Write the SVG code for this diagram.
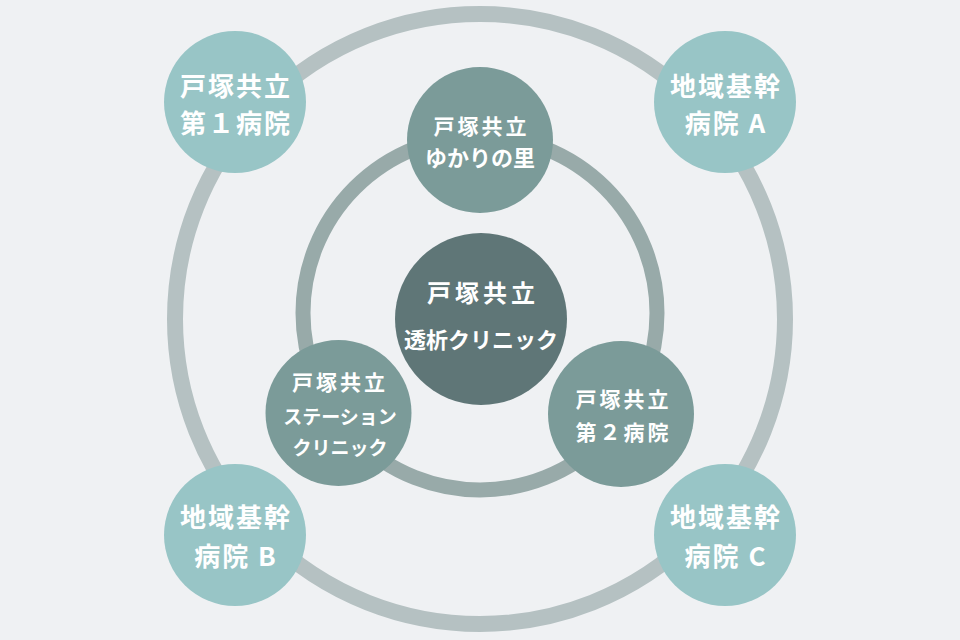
<svg xmlns="http://www.w3.org/2000/svg" width="960" height="640" viewBox="0 0 960 640">
<style>
.t{fill:#ffffff;font-family:"Noto Sans CJK JP","Noto Sans",sans-serif;font-weight:700;text-anchor:middle}
.o{font-size:26px;letter-spacing:2px}
.s1{font-size:21px;letter-spacing:3px}
.s2{font-size:19px}
.c1{font-size:24px;letter-spacing:4px}
.c2{font-size:22px}
.outer{fill:#98c5c6}
.inner{fill:#7b9b99}
.center{fill:#5f7677}
</style>
<rect width="960" height="640" fill="#eff1f3"/>
<g id="connectors" fill="none">
<circle cx="480" cy="319" r="305" stroke="#b5c1c2" stroke-width="16"/>
<circle cx="480" cy="313" r="177" stroke="#98aaa9" stroke-width="15"/>
</g>
<g id="n-daiichi">
<circle class="outer" cx="235" cy="102" r="71"/>
<text class="t o" x="236" y="96">戸塚共立</text>
<text class="t o" x="236" y="133">第１病院</text>
</g>
<g id="n-kikanA">
<circle class="outer" cx="725" cy="102" r="71"/>
<text class="t o" x="726" y="96">地域基幹</text>
<text class="t o" x="726" y="133">病院 A</text>
</g>
<g id="n-kikanB">
<circle class="outer" cx="235" cy="535" r="71"/>
<text class="t o" x="236" y="527">地域基幹</text>
<text class="t o" x="236" y="566">病院 B</text>
</g>
<g id="n-kikanC">
<circle class="outer" cx="725" cy="535" r="71"/>
<text class="t o" x="726" y="527">地域基幹</text>
<text class="t o" x="726" y="566">病院 C</text>
</g>
<g id="n-yukari">
<circle class="inner" cx="480" cy="140" r="73"/>
<text class="t s1" x="481.5" y="134">戸塚共立</text>
<text class="t c2" x="480" y="166">ゆかりの里</text>
</g>
<g id="n-station">
<circle class="inner" cx="338.5" cy="413" r="73"/>
<text class="t s1" x="340" y="390">戸塚共立</text>
<text class="t s2" x="340" y="424">ステーション</text>
<text class="t s2" x="340" y="455">クリニック</text>
</g>
<g id="n-daini">
<circle class="inner" cx="621" cy="414" r="73"/>
<text class="t s1" x="623.5" y="407">戸塚共立</text>
<text class="t s1" x="623.5" y="440">第２病院</text>
</g>
<g id="n-touseki">
<circle class="center" cx="481" cy="319" r="86"/>
<text class="t c1" x="483" y="302">戸塚共立</text>
<text class="t c2" x="481" y="348">透析クリニック</text>
</g>
</svg>
